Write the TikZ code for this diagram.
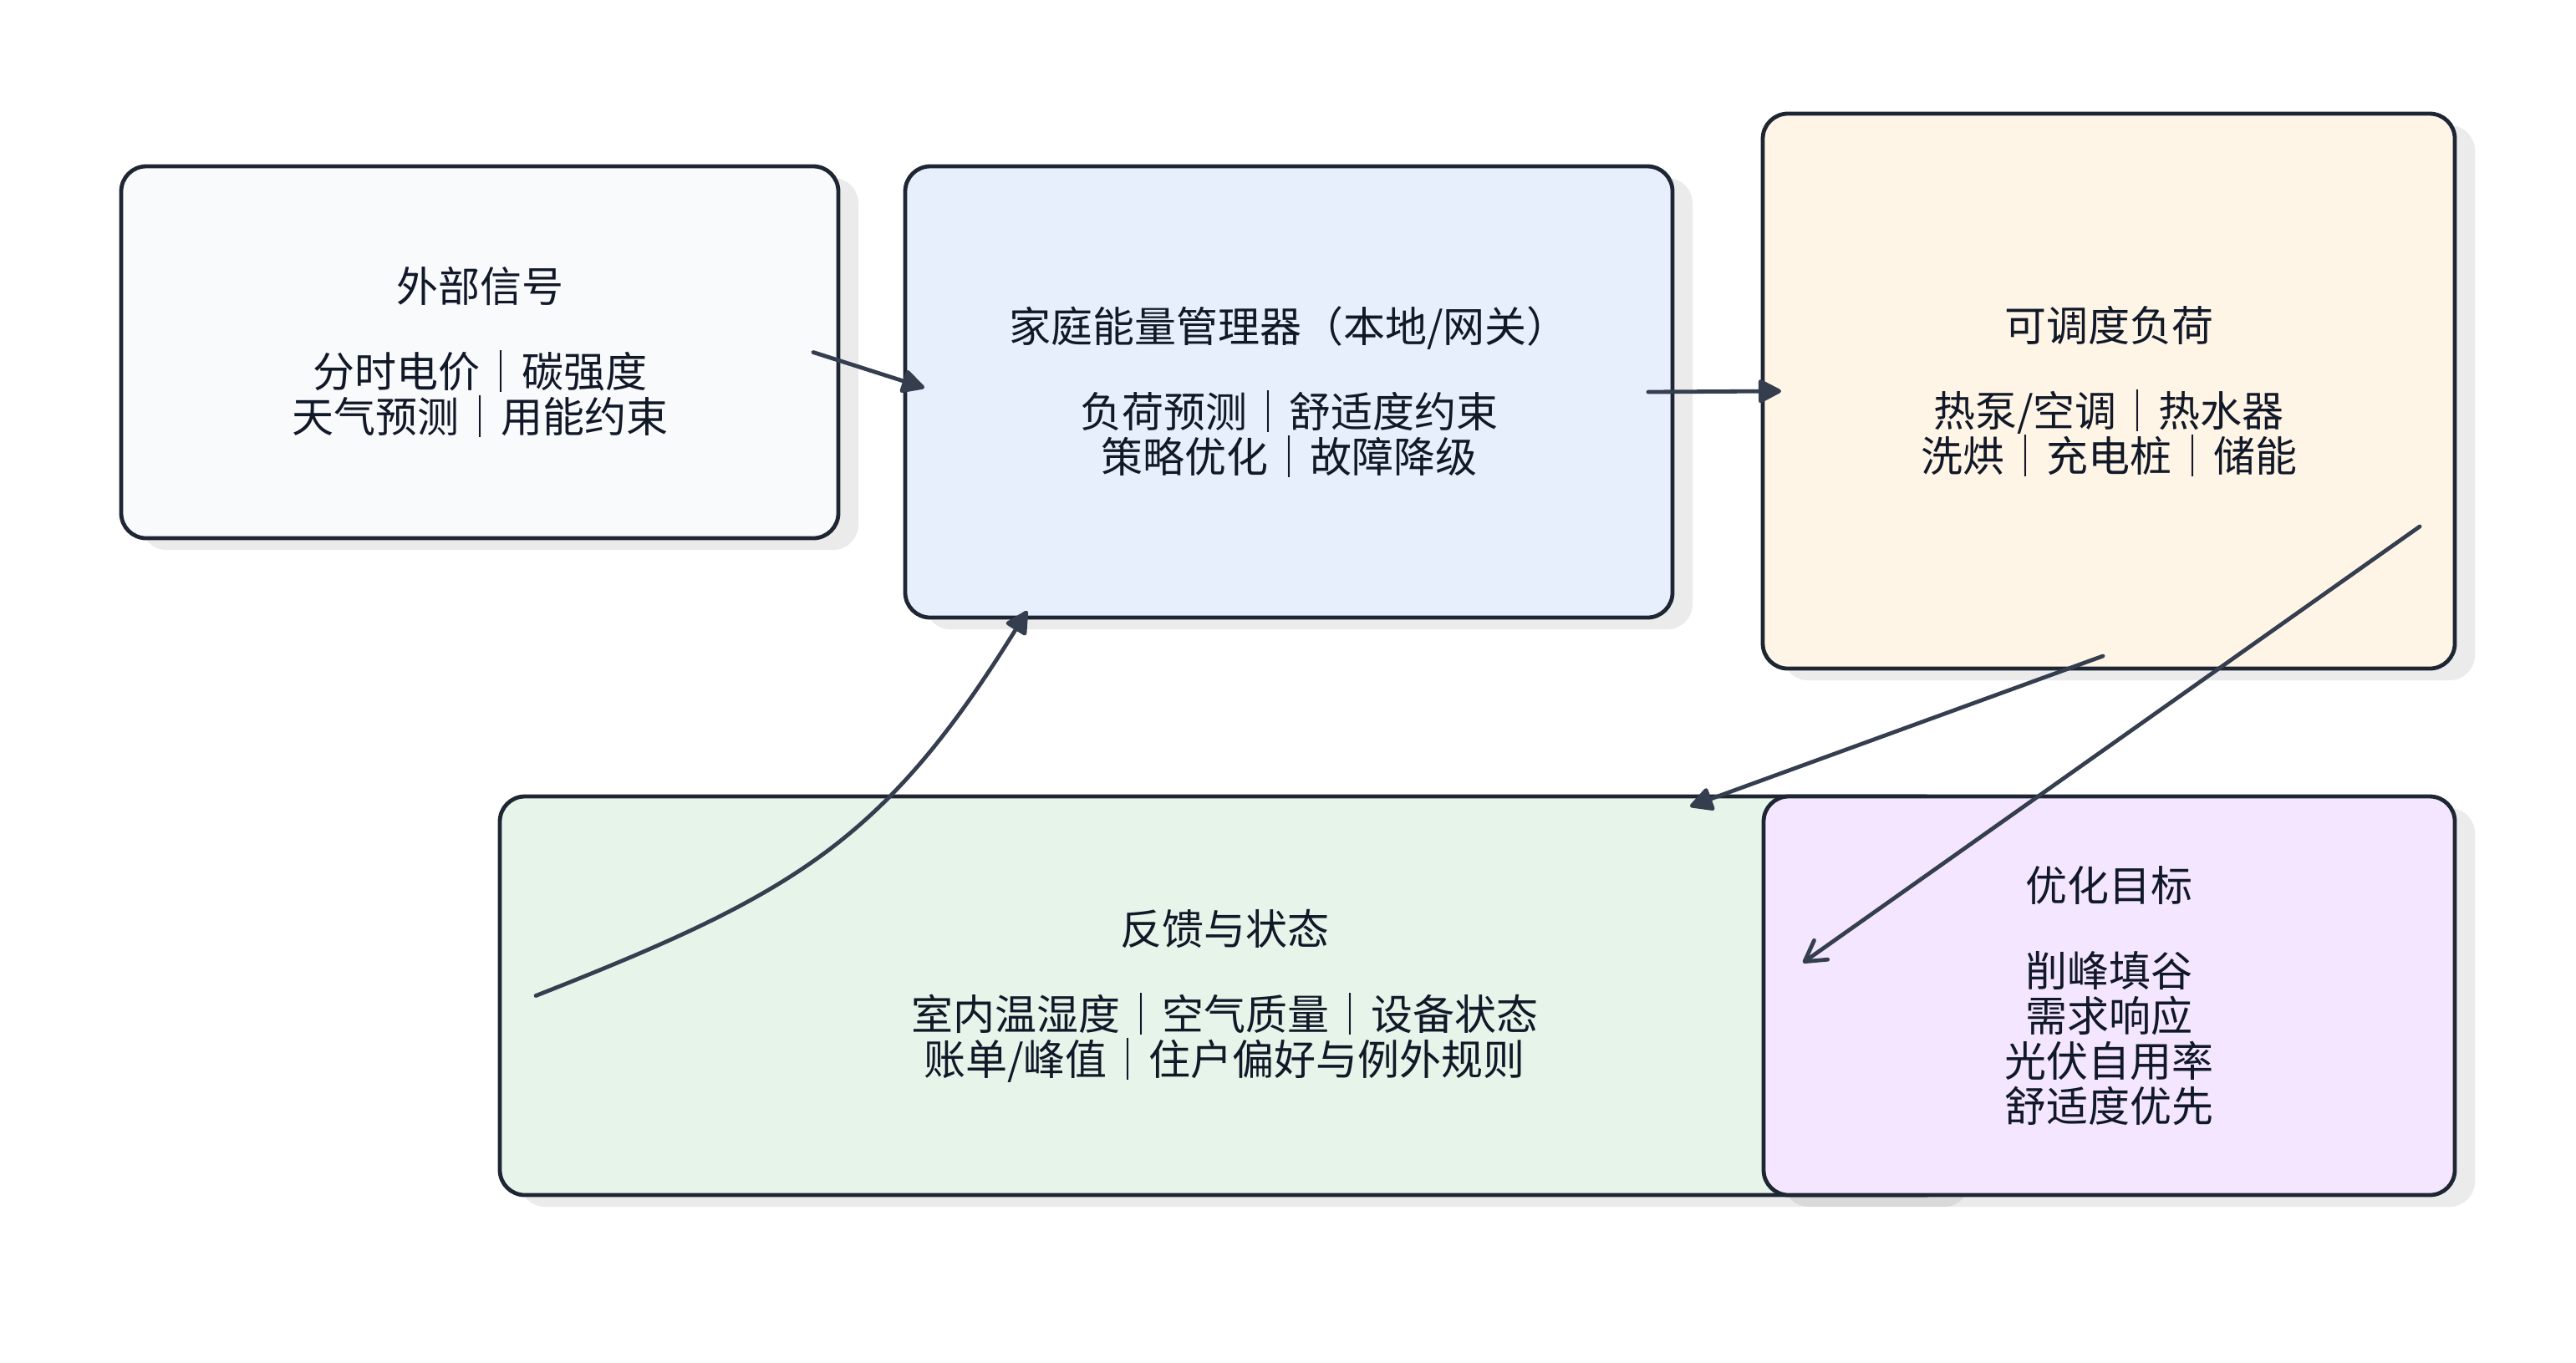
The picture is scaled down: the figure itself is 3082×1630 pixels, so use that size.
\documentclass[tikz,border=0pt]{standalone}
\usepackage{fontspec}
\setmainfont{Noto Sans CJK SC}
\usetikzlibrary{shadows, arrows.meta}
\definecolor{edge}{HTML}{1E2533}
\definecolor{wire}{HTML}{353E4F}
\definecolor{ink}{HTML}{111827}
\definecolor{sigfill}{HTML}{F8FAFC}
\definecolor{emsfill}{HTML}{E8EFFC}
\definecolor{loadfill}{HTML}{FFF5E6}
\definecolor{fbfill}{HTML}{E6F4EA}
\definecolor{goalfill}{HTML}{F3E6FE}
\tikzstyle{card} = [rectangle, rounded corners=15pt, draw=edge, line width=2.4pt, text=ink, align=center, inner sep=0pt, outer sep=0pt, font=\fontsize{25pt}{27pt}\selectfont, drop shadow={shadow xshift=12pt, shadow yshift=-7pt, fill=black, opacity=0.08}]
\tikzstyle{arrow} = [line width=2.4pt, draw=wire, line cap=round, -{Triangle[length=15pt, width=15pt, round]}]
\tikzstyle{openarrow} = [line width=2.4pt, draw=wire, line cap=round, -{Straight Barb[length=12pt, width=14pt, round]}]

\begin{document}
\begin{tikzpicture}[x=0.5pt, y=-0.5pt]
\useasboundingbox (0,0) rectangle (3082,1630);

\node (signals) [card, fill=sigfill, minimum width=429pt, minimum height=222.5pt] at (574,421.5) {外部信号\\[24pt]分时电价｜碳强度\\天气预测｜用能约束};
\node (ems) [card, fill=emsfill, minimum width=459pt, minimum height=270pt] at (1542,469) {家庭能量管理器（本地/网关）\\[24pt]负荷预测｜舒适度约束\\策略优化｜故障降级};
\node (load) [card, fill=loadfill, minimum width=414pt, minimum height=332pt] at (2523,468) {可调度负荷\\[24pt]热泵/空调｜热水器\\洗烘｜充电桩｜储能};
\node (fb) [card, fill=fbfill, minimum width=867pt, minimum height=238.5pt] at (1465,1191.5) {反馈与状态\\[24pt]室内温湿度｜空气质量｜设备状态\\账单/峰值｜住户偏好与例外规则};
\node (goal) [card, fill=goalfill, minimum width=413.5pt, minimum height=238.5pt] at (2523.5,1191.5) {优化目标\\[24pt]削峰填谷\\需求响应\\光伏自用率\\舒适度优先};

\draw [arrow] ([xshift=-15pt]signals.east) -- ([xshift=11.5pt, yshift=2.5pt]ems.west);
\draw [arrow] ([xshift=-14.5pt]ems.east) -- ([xshift=11pt]load.west);
\draw [arrow] ([xshift=-3.5pt, yshift=7.5pt]load.south) -- ([xshift=-155pt, yshift=-6pt]fb.north east);
\draw [openarrow] ([xshift=-21pt, yshift=85pt]load.south east) -- ([xshift=23.5pt, yshift=19.75pt]goal.west);
\draw [arrow] ([xshift=21.5pt]fb.west) .. controls +(153.5pt,60.5pt) and +(-86pt,-138.75pt) .. ([xshift=73pt, yshift=4pt]ems.south west);

\end{tikzpicture}
\end{document}
